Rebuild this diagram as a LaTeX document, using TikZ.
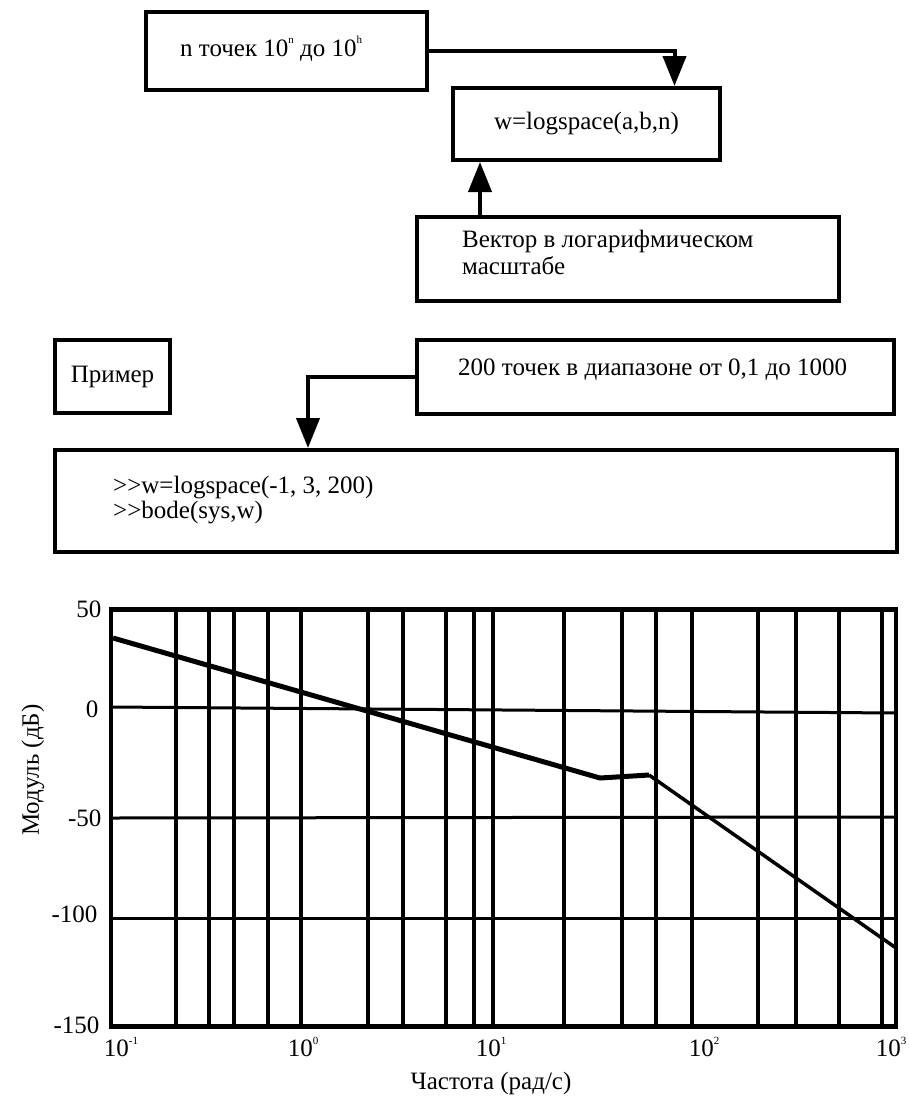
\documentclass[tikz,border=0pt]{standalone}
\usepackage{fontspec}
\setmainfont{Liberation Serif}
\usetikzlibrary{arrows.meta}
\newcommand\pw[1]{10\raisebox{0.5em}{\fontsize{11}{11}\selectfont #1}}
\newcommand\prompt{>\kern0pt>}

\begin{document}
\begin{tikzpicture}[x=1pt,y=-1pt,
  font=\fontsize{25}{27}\selectfont,
  box/.style={draw,line width=4pt,anchor=north west,inner sep=0pt},
  txt/.style={anchor=base west,inner sep=0pt},
  link/.style={line width=4pt,-{Triangle[width=23pt,length=30pt]}},
  gridline/.style={line width=3.5pt},
  curve/.style={line width=5pt,line join=round}]
\useasboundingbox (0,0) rectangle (909,1106);

\node[box,minimum width=281pt,minimum height=78pt] (range) at (144,10) {};
\node[txt] (range-t) at (180,56) {n точек \pw{n} до \pw{h}};
\node[box,minimum width=267pt,minimum height=72pt] (cmd) at (451,86) {w=logspace(a,b,n)};
\node[box,minimum width=422pt,minimum height=84pt] (vec) at (415,215) {};
\node[txt] (vec-a) at (462,247) {Вектор в логарифмическом};
\node[txt] (vec-b) at (462,274) {масштабе};

\node[box,minimum width=115pt,minimum height=73pt] (ex) at (53,338) {Пример};
\node[box,minimum width=477pt,minimum height=74pt] (pts) at (415,338) {};
\node[txt] (pts-t) at (458,375) {200 точек в диапазоне от 0,1 до 1000};
\node[box,minimum width=842pt,minimum height=102pt] (code) at (53,448) {};
\node[txt] (code-a) at (113,493) {\prompt w=logspace(-1, 3, 200)};
\node[txt] (code-b) at (113,518) {\prompt bode(sys,w)};

\draw[link] (range.east) -| ([xshift=88pt]cmd.north);
\draw[link] ([xshift=-148pt]vec.north) -- ([xshift=-148pt]vec.north |- cmd.south);
\draw[link] (pts.west) -| ([xshift=-168pt]code.north);

\foreach \gx in {176,209,234,268,301,368,403,446,474,493,564,622,656,692,758,796,839,882}
  \draw[gridline] (\gx,609) -- (\gx,1026);
\draw[line width=3pt] (111,707) -- (896,713);
\draw[line width=3pt] (111,818) -- (896,817);
\draw[line width=3pt] (111,918) -- (896,918);
\draw[line width=4pt] (111,609) rectangle (896,1026);
\draw[line width=5pt] (109,609) -- (898,609) (109,1026) -- (898,1026);

\draw[curve] (113,638) -- (600,778) -- (649,775);
\draw[line width=3.5pt] (649,775) -- (896,948);

\node[anchor=east] (y50) at (105,609) {50};
\node[anchor=east] (y0) at (102,709) {0};
\node[anchor=east] (y-50) at (105,818) {-50};
\node[anchor=east] (y-100) at (101,914) {-100};
\node[anchor=east] (y-150) at (103,1025) {-150};
\node (x-1) at (121,1047) {\pw{-1}};
\node (x0) at (303,1047) {\pw{0}};
\node (x1) at (491,1047) {\pw{1}};
\node (x2) at (704,1047) {\pw{2}};
\node (x3) at (891,1047) {\pw{3}};
\node[rotate=90] (ylab) at (33,770) {Модуль (дБ)};
\node (xlab) at (491,1083) {Частота (рад/с)};
\end{tikzpicture}
\end{document}
